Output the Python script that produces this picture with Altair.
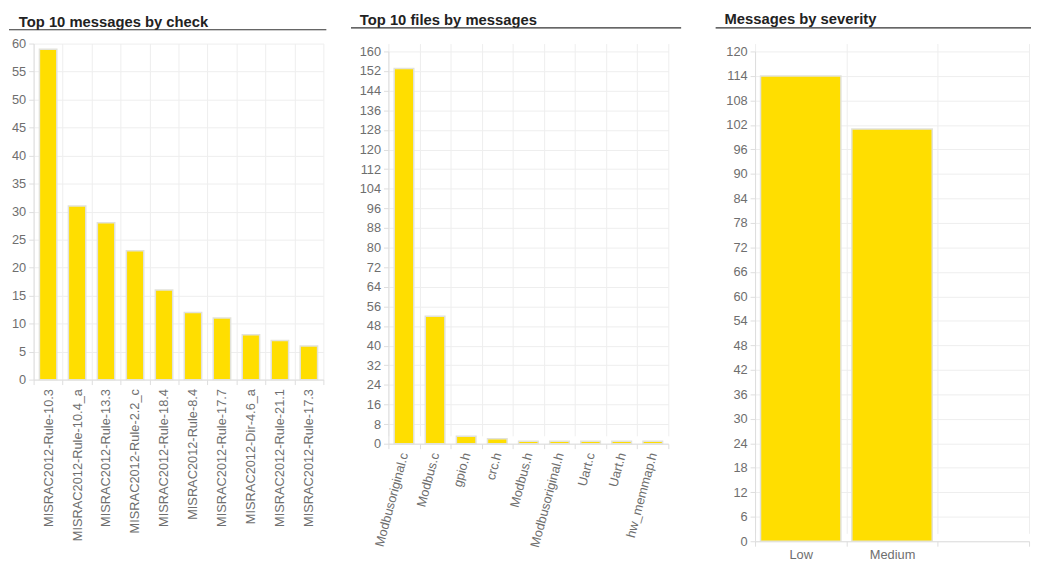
import altair as alt
import pandas as pd

# ---- data ----
check_names = ["MISRAC2012-Rule-10.3", "MISRAC2012-Rule-10.4_a", "MISRAC2012-Rule-13.3",
               "MISRAC2012-Rule-2.2_c", "MISRAC2012-Rule-18.4", "MISRAC2012-Rule-8.4",
               "MISRAC2012-Rule-17.7", "MISRAC2012-Dir-4.6_a", "MISRAC2012-Rule-21.1",
               "MISRAC2012-Rule-17.3"]
check_counts = [59, 31, 28, 23, 16, 12, 11, 8, 7, 6]

file_names = ["Modbusoriginal.c", "Modbus.c", "gpio.h", "crc.h", "Modbus.h",
              "Modbusoriginal.h", "Uart.c", "Uart.h", "hw_memmap.h"]
file_counts = [153, 52, 3, 2, 1, 1, 1, 1, 1]

severity_names = ["Low", "Medium"]
severity_counts = [114, 101]
severity_slots = ["Low", "Medium", ""]

check_ticks = list(range(0, 61, 5))
file_ticks = list(range(0, 161, 8))
severity_ticks = list(range(0, 121, 6))

titles = ["Top 10 messages by check", "Top 10 files by messages", "Messages by severity"]

FILL = "#FFDE00"
EDGE = "#E2E2DA"
FONT = "Liberation Sans"
LABEL = "#6E6E6E"
GRID = "#EEEEEE"
DOMAIN = "#DDDDDD"


def panel(names, counts, domain, ticks, ymax, width, height, top_off, title,
          title_dx, title_dy, line_x0, line_x1, line_y, label_angle, band, lab_pad,
          extra_right=0):
    df = pd.DataFrame({"name": names, "count": counts})
    x_enc = alt.X("name:N", sort=domain,
                  scale=alt.Scale(domain=domain, paddingInner=0, paddingOuter=0),
                  axis=alt.Axis(title=None, labelAngle=label_angle, tickBand="extent",
                                grid=True, gridColor=GRID, domainColor=DOMAIN,
                                tickColor=DOMAIN, tickSize=5, labelPadding=lab_pad,
                                labelFont=FONT, labelFontSize=13, labelColor=LABEL,
                                labelOverlap=False))
    y_enc = alt.Y("count:Q",
                  scale=alt.Scale(domain=[0, ymax], range=[height, top_off], nice=False),
                  axis=alt.Axis(title=None, values=ticks, grid=True, gridColor=GRID,
                                domainColor=DOMAIN, tickColor=DOMAIN, tickSize=5,
                                labelPadding=3, labelFont=FONT, labelFontSize=13,
                                labelColor=LABEL))
    bars = alt.Chart(df).mark_bar(width=alt.RelativeBandSize(band), fill=FILL,
                                  stroke=EDGE, strokeWidth=1.5).encode(x=x_enc, y=y_enc)
    tdf = pd.DataFrame({"t": [title]})
    ttl = alt.Chart(tdf).mark_text(align="left", baseline="top", font=FONT,
                                   fontSize=15, fontWeight="bold", color="#222222").encode(
        text="t:N", x=alt.value(title_dx), y=alt.value(title_dy))
    line = alt.Chart(tdf).mark_rule(color="#333333", strokeWidth=1.2).encode(
        x=alt.value(line_x0), x2=alt.value(line_x1), y=alt.value(line_y))
    layers = [bars, ttl, line]
    if extra_right:
        pad = alt.Chart(tdf).mark_rule(strokeOpacity=0).encode(
            x=alt.value(line_x1), x2=alt.value(line_x1 + extra_right), y=alt.value(line_y))
        layers.append(pad)
    return alt.layer(*layers).properties(width=width, height=height)


p1 = panel(check_names, check_counts, check_names, check_ticks, 60, 294, 341, 0,
           titles[0], -15, -29, -25, 297, -14, 270, 0.6, 4)
p2 = panel(file_names, file_counts, file_names, file_ticks, 160, 284, 406, 8,
           titles[1], -29, -31, -38, 297, -16, 285, 0.63, 4, extra_right=11)
p3 = panel(severity_names, severity_counts, severity_slots, severity_ticks, 120, 278, 505, 8,
           titles[2], -31, -32, -40, 280, -16, 0, 0.88, 2)

chart = alt.hconcat(p1, p2, p3, spacing=23, bounds="full").properties(
    padding={"top": 0, "left": 0, "right": 0, "bottom": 0}
).configure_view(stroke=None)

chart.save("out.html", embed_options={"renderer": "svg", "actions": False})
